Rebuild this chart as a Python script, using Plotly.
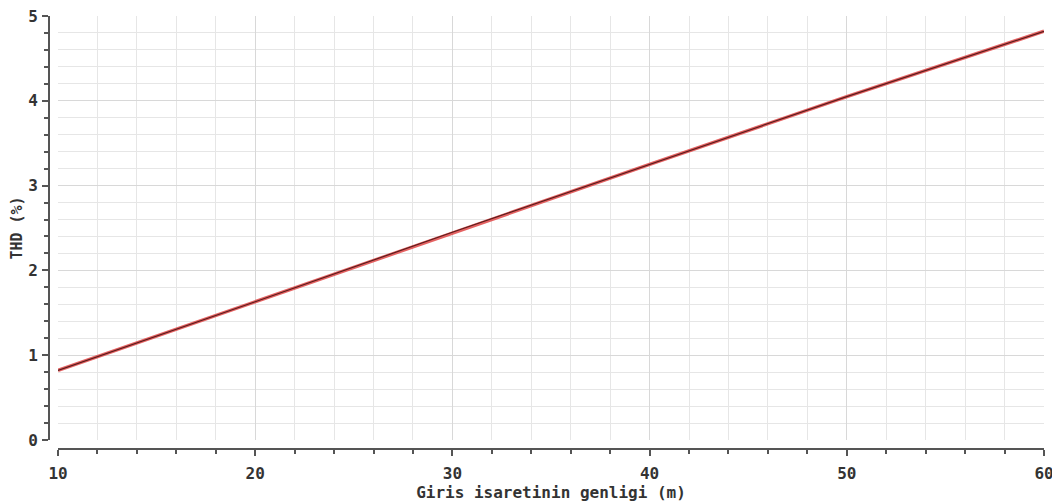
import plotly.graph_objects as go

x_vals = [10, 20, 30, 40, 50, 60]
thd_vals = [0.82, 1.63, 2.45, 3.25, 4.05, 4.82]
x_title = "Giris isaretinin genligi (m)"
y_title = "THD (%)"

# page body has an 8px margin; figure sized to fit the window
OFF = 8
W, H = 1060 - OFF, 504 - OFF
font_fam = "DejaVu Sans Mono"

def px_x(p):
    return (p - OFF) / W

def px_y(p):
    return 1 - (p - OFF) / H

fig = go.Figure()
fig.add_trace(go.Scatter(x=x_vals, y=thd_vals, mode="lines",
                         line=dict(color="rgba(225,70,70,0.85)", width=3.5),
                         hoverinfo="skip", showlegend=False))
fig.add_trace(go.Scatter(x=x_vals, y=thd_vals, mode="lines",
                         line=dict(color="#5a1c1c", width=1.2),
                         showlegend=False))

tickfont = dict(family=font_fam, size=16, color="#333", weight="bold")
fig.update_layout(
    width=W, height=H,
    margin=dict(l=0, r=0, t=0, b=0),
    paper_bgcolor="white", plot_bgcolor="white",
    xaxis=dict(
        domain=[px_x(58), px_x(1044)], range=[10, 60],
        anchor="free", position=px_y(449), automargin=False,
        tick0=10, dtick=10, ticks="outside", ticklen=6, tickwidth=1.5, tickcolor="#555",
        showline=True, linecolor="#555", linewidth=2,
        showgrid=True, gridcolor="#d8d8d8", gridwidth=1,
        zeroline=False, tickfont=tickfont, ticklabelstandoff=4,
        ticklabeloverflow="allow",
        minor=dict(dtick=2, ticks="outside", ticklen=4, tickcolor="#555",
                   showgrid=True, gridcolor="#e6e6e6", gridwidth=1),
        title=dict(text=x_title, font=dict(family=font_fam, size=16, color="#333", weight="bold"),
                   standoff=4),
    ),
    yaxis=dict(
        domain=[px_y(440), px_y(16)], range=[0, 5],
        anchor="free", position=px_x(49), automargin=False,
        dtick=1, ticks="outside", ticklen=6, tickwidth=1.5, tickcolor="#555",
        showline=True, linecolor="#555", linewidth=2,
        showgrid=True, gridcolor="#d8d8d8", gridwidth=1,
        zeroline=False, tickfont=tickfont, ticklabelstandoff=1,
        ticklabeloverflow="allow",
        minor=dict(dtick=0.2, ticks="outside", ticklen=4, tickcolor="#555",
                   showgrid=True, gridcolor="#e6e6e6", gridwidth=1),
        title=dict(text=y_title, font=dict(family=font_fam, size=15, color="#333", weight="bold"),
                   standoff=4),
    ),
)

fig.write_html("out.html")
